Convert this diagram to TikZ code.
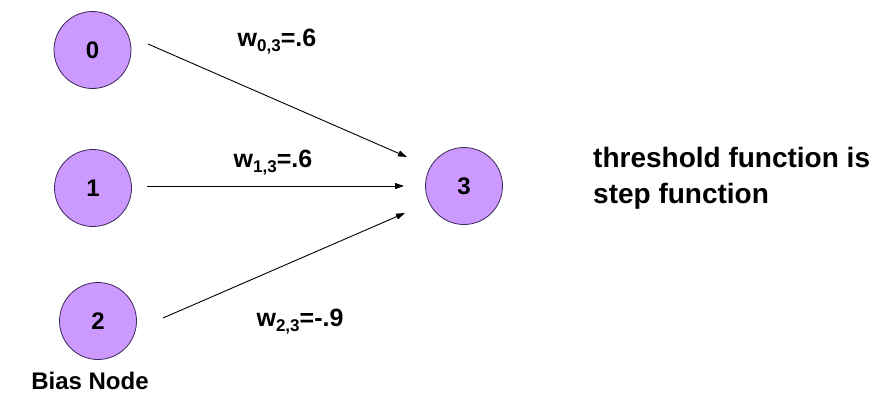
\documentclass[tikz,border=0pt]{standalone}
\usepackage{fontspec}
\setmainfont{Liberation Sans}
\usetikzlibrary{arrows.meta}
\definecolor{nodefill}{RGB}{204,153,255}
\definecolor{nodeline}{RGB}{60,40,90}
\newcommand{\wsub}[1]{\raisebox{-5pt}{\fontsize{17}{17}\selectfont #1}}
\tikzset{
  neuron/.style={circle,draw=nodeline,fill=nodefill,line width=0.8pt,minimum size=77pt,inner sep=0pt,font=\fontsize{24}{27}\selectfont\bfseries},
  conn/.style={line width=0.9pt,-{Triangle[length=9pt,width=6pt]}},
  wlabel/.style={font=\fontsize{25}{30}\selectfont\bfseries,inner sep=0pt},
  txt/.style={font=\fontsize{24}{36}\selectfont\bfseries,inner sep=0pt},
  bigtxt/.style={font=\fontsize{28}{36}\selectfont\bfseries,inner sep=0pt,anchor=base west}
}
\begin{document}
\begin{tikzpicture}[x=1pt,y=-1pt]
\useasboundingbox[fill=white] (0,0) rectangle (878,397);
\node[neuron] (n0) at (92.5,50) {0};
\node[neuron] (n1) at (93,188) {1};
\node[neuron] (n2) at (98,321) {2};
\node[neuron] (n3) at (464,186) {3};
\coordinate (s0) at (148,44);
\coordinate (e0) at (407,157);
\coordinate (s1) at (147,186);
\coordinate (e1) at (404,186);
\coordinate (s2) at (163,318);
\coordinate (e2) at (405,213);
\draw[conn] (s0) -- (e0);
\draw[conn] (s1) -- (e1);
\draw[conn] (s2) -- (e2);
\node[wlabel] (w0) at (277,42) {w\wsub{0,3}=.6};
\node[wlabel] (w1) at (273,163) {w\wsub{1,3}=.6};
\node[wlabel] (w2) at (300,322) {w\wsub{2,3}=-.9};
\node[bigtxt] (th1) at (593,167) {threshold function is};
\node[bigtxt] (th2) at (593,203) {step function};
\node[txt] (bias) at (90,381) {Bias Node};
\end{tikzpicture}
\end{document}
